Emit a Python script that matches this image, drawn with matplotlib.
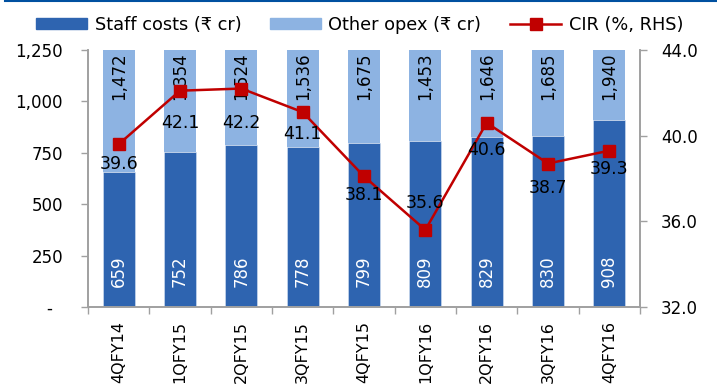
import matplotlib
matplotlib.use('Agg')
import matplotlib.pyplot as plt
from matplotlib.lines import Line2D
import numpy as np

quarters = ["4QFY14", "1QFY15", "2QFY15", "3QFY15", "4QFY15", "1QFY16", "2QFY16", "3QFY16", "4QFY16"]
staff_costs = [659, 752, 786, 778, 799, 809, 829, 830, 908]
other_opex = [1472, 1354, 1524, 1536, 1675, 1453, 1646, 1685, 1940]
cir = [39.6, 42.1, 42.2, 41.1, 38.1, 35.6, 40.6, 38.7, 39.3]

dark_blue = "#2E64B0"
light_blue = "#8DB3E2"
red = "#C00000"
grey = "#A0A0A0"

plt.rcParams['font.family'] = ['DejaVu Sans']
plt.rcParams['font.size'] = 12

fig = plt.figure(figsize=(7.17, 3.85), dpi=100)
ax = fig.add_axes([88/717, 1 - 307/385, 552/717, 257/385])
ax2 = ax.twinx()

x = np.arange(len(quarters))
ax.bar(x, staff_costs, width=0.52, color=dark_blue, edgecolor="#D6E3F3", linewidth=0.4, zorder=2)
ax.bar(x, other_opex, width=0.52, bottom=staff_costs, color=light_blue, zorder=2)

ax.set_xlim(-0.5, len(quarters) - 0.5)
ax.set_ylim(0, 1250)
ax.set_yticks([0, 250, 500, 750, 1000, 1250])
ax.set_yticklabels(["-  ", "250", "500", "750", "1,000", "1,250"], fontsize=12)

# ticks sit between the categories
ax.set_xticks(np.arange(-0.5, len(quarters), 1.0))
ax.set_xticklabels([])
ax.tick_params(axis='x', length=5, color=grey, width=1)
for i, q in enumerate(quarters):
    ax.text(i, -0.055, q, transform=ax.get_xaxis_transform(), rotation=90,
            ha='center', va='top', fontsize=11.5, clip_on=False)

ax.tick_params(axis='y', length=5, color=grey, width=1, pad=13)
for a in (ax, ax2):
    a.spines['top'].set_visible(False)
    for s in ['left', 'bottom', 'right']:
        a.spines[s].set_color(grey)
        a.spines[s].set_linewidth(1.2)

# bar labels
for i in range(len(quarters)):
    ax.text(i, 95, f"{staff_costs[i]:,}", rotation=90, ha='center', va='bottom',
            color='white', fontsize=12, zorder=4)
    ax.text(i, 1237, f"{other_opex[i]:,}", rotation=90, ha='center', va='top',
            color='black', fontsize=12, zorder=4)

ax2.plot(x, cir, color=red, linewidth=1.8, marker='s', markersize=8, zorder=5)
ax2.set_ylim(32, 44)
ax2.set_yticks([32, 36, 40, 44])
ax2.set_yticklabels(["32.0", "36.0", "40.0", "44.0"], fontsize=12)
ax2.tick_params(axis='y', length=5, color=grey, width=1, pad=10)

# label offsets (points) as placed in the source chart
label_dy = [-8, -16.5, -18.5, -9.5, -7, 13, -13, -11.5, -7]
for i, v in enumerate(cir):
    dy = label_dy[i]
    ax2.annotate(f"{v}", (i, v), xytext=(0, dy), textcoords='offset points',
                 ha='center', va='bottom' if dy > 0 else 'top', fontsize=12.5, zorder=6)

handles = [
    plt.Rectangle((0, 0), 1, 1, color=dark_blue),
    plt.Rectangle((0, 0), 1, 1, color=light_blue),
    Line2D([0], [0], color=red, linewidth=1.8, marker='s', markersize=8),
]
fig.legend(handles, ["Staff costs (₹ cr)", "Other opex (₹ cr)", "CIR (%, RHS)"],
           loc='center', bbox_to_anchor=(0.5 + 1/717, 1 - 25/385), ncol=3, frameon=False,
           fontsize=12.8, handlelength=2.9, handleheight=0.6, columnspacing=1.6,
           handletextpad=0.4)

fig.add_artist(Line2D([5/717, 1], [1 - 1/385, 1 - 1/385], color="#0050A0", linewidth=1.5))

fig.savefig("out.png", dpi=100)
